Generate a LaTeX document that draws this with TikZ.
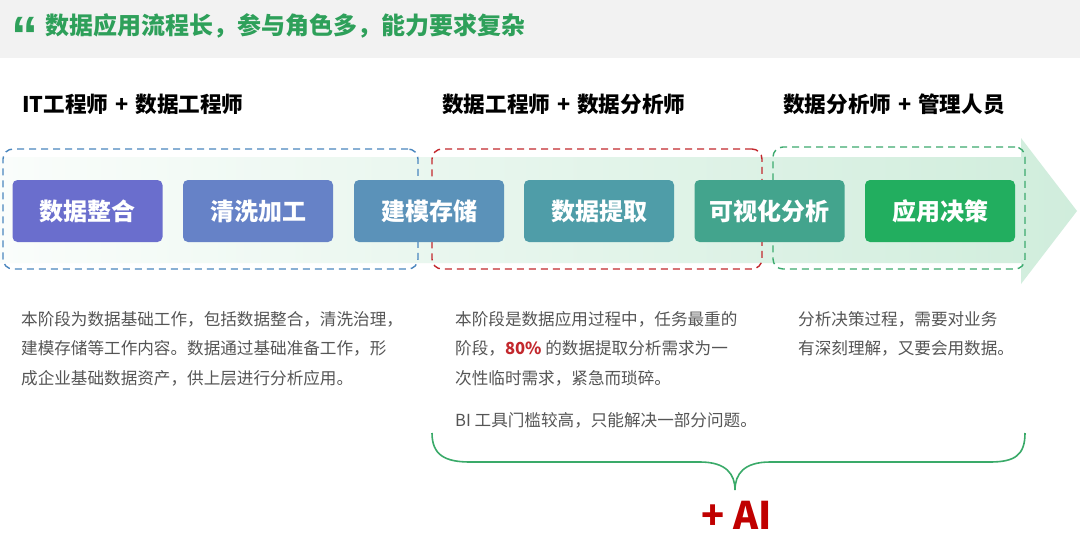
\documentclass[tikz,border=0pt]{standalone}
\usepackage{fontspec}
\setmainfont{Noto Sans CJK SC}
\newfontfamily\latb{Liberation Sans}[BoldFont={* Bold}]
\definecolor{titlegreen}{RGB}{46,160,90}
\definecolor{bandgray}{RGB}{242,242,242}
\definecolor{txtgray}{RGB}{85,85,85}
\definecolor{cA}{RGB}{106,110,205}
\definecolor{cB}{RGB}{102,130,199}
\definecolor{cC}{RGB}{91,146,185}
\definecolor{cD}{RGB}{79,157,168}
\definecolor{cE}{RGB}{67,164,141}
\definecolor{cF}{RGB}{34,174,95}
\definecolor{dblue}{RGB}{74,134,190}
\definecolor{dred}{RGB}{195,40,45}
\definecolor{dgreen}{RGB}{60,170,110}
\definecolor{arrowL}{RGB}{250,253,251}
\definecolor{arrowR}{RGB}{208,237,220}
\definecolor{bracegreen}{RGB}{58,170,105}
\definecolor{aired}{RGB}{192,0,0}
\newcommand{\plussep}{\hspace{7pt}+\hspace{7pt}}
\tikzset{
  procbox/.style={rounded corners=5pt, minimum width=150pt, minimum height=62pt, inner sep=0pt,
    text=white, font=\fontsize{24}{24}\selectfont\bfseries},
  stagebox/.style={rounded corners=10pt, dash pattern=on 7pt off 5pt, line width=1.4pt, inner sep=0pt},
  header/.style={anchor=west, inner sep=0pt, font=\fontsize{21.6}{21.6}\selectfont\bfseries, text=black},
  desc/.style={anchor=north west, inner sep=0pt, align=left, text=txtgray, font=\fontsize{16.6}{29.5}\selectfont},
}
\begin{document}
\begin{tikzpicture}[x=1pt, y=-1pt]
\useasboundingbox (0,0) rectangle (1080,536);
\fill[white] (0,0) rectangle (1080,536);
\fill[bandgray] (0,0) rectangle (1080,58);
% title
\node[anchor=base west, inner sep=0pt, text=titlegreen, font=\latb\fontsize{54}{54}\selectfont\bfseries] (quote) at (11,54) {“};
\node[anchor=west, inner sep=0pt, text=titlegreen, font=\fontsize{24}{24}\selectfont\bfseries] (title) at (45,26) {数据应用流程长，参与角色多，能力要求复杂};
% headers
\node[header] (h1) at (22,104) {IT工程师\plussep 数据工程师};
\node[header] (h2) at (442,104) {数据工程师\plussep 数据分析师};
\node[header] (h3) at (783,104) {数据分析师\plussep 管理人员};
% big arrow
\shade[left color=arrowL, right color=arrowR] (0,157) -- (1021,157) -- (1021,138) -- (1077,211) -- (1021,284) -- (1021,263) -- (0,263) -- cycle;
% stage boxes
\node[stagebox, draw=dblue, minimum width=415pt, minimum height=120pt] (s1) at (210.5,209) {};
\node[stagebox, draw=dred, minimum width=330pt, minimum height=120pt] (s2) at (597,209) {};
\node[stagebox, draw=dgreen, minimum width=252pt, minimum height=122pt] (s3) at (899,208) {};
% process boxes
\node[procbox, fill=cA] (p1) at (87.5,211) {数据整合};
\node[procbox, fill=cB] (p2) at (258,211) {清洗加工};
\node[procbox, fill=cC] (p3) at (429,211) {建模存储};
\node[procbox, fill=cD] (p4) at (599,211) {数据提取};
\node[procbox, fill=cE] (p5) at (769.5,211) {可视化分析};
\node[procbox, fill=cF] (p6) at (940,211) {应用决策};
% descriptions
\node[desc] (d1) at (21,311) {本阶段为数据基础工作，包括数据整合，清洗治理，\\建模存储等工作内容。数据通过基础准备工作，形\\成企业基础数据资产，供上层进行分析应用。};
\node[desc] (d2) at (455,311) {本阶段是数据应用过程中，任务最重的\\阶段，{\color{dred}\bfseries 80\%} 的数据提取分析需求为一\\次性临时需求，紧急而琐碎。};
\node[anchor=base west, inner sep=0pt, text=txtgray, font=\fontsize{16.6}{16.6}\selectfont] (d2b) at (455,426) {BI 工具门槛较高，只能解决一部分问题。};
\node[desc] (d3) at (798,311) {分析决策过程，需要对业务\\有深刻理解，又要会用数据。};
% brace
\coordinate (bl) at (432,433);
\coordinate (bt) at (735,490);
\coordinate (br) at (1025,433);
\draw[bracegreen, line width=1.6pt] (bl) .. controls (432,455) and (445,462) .. (470,462) -- (700,462) .. controls (726,462) and (735,474) .. (bt)
  .. controls (735,474) and (744,462) .. (770,462) -- (990,462) .. controls (1015,462) and (1025,455) .. (br);
% + AI
\node[inner sep=0pt, text=aired, font=\fontsize{38}{38}\selectfont\bfseries] (ai) at (737,515) {+ AI};
\end{tikzpicture}
\end{document}
